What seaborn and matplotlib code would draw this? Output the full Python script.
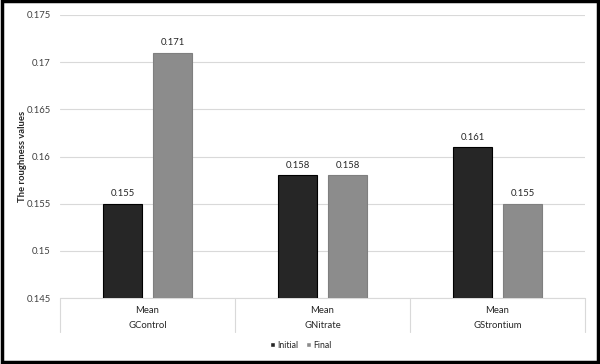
import pandas as pd
import seaborn as sns
import matplotlib.pyplot as plt
from matplotlib.patches import Rectangle

# Dati
gruppi = ['GControl', 'GNitrate', 'GStrontium']
fasi = ['Initial', 'Final']
initial = [0.155, 0.158, 0.161]
final = [0.171, 0.158, 0.155]
yticks = [0.145, 0.15, 0.155, 0.16, 0.165, 0.17, 0.175]
ytick_labels = ['0.145', '0.15', '0.155', '0.16', '0.165', '0.17', '0.175']

df = pd.DataFrame({
    'gruppo': gruppi * 2,
    'fase': ['Initial'] * 3 + ['Final'] * 3,
    'valore': initial + final,
})

sns.set_style('white')
plt.rcParams['font.family'] = ['Lato', 'DejaVu Sans']

fig = plt.figure(figsize=(6, 3.64), dpi=100)
ax = fig.add_axes([0.1, 0.181, 0.875, 0.778])

sns.barplot(data=df, x='gruppo', y='valore', hue='fase', hue_order=fasi,
            palette=['#262626', '#8c8c8c'], width=0.57, gap=0.22,
            errorbar=None, ax=ax, zorder=3)

# bordi delle barre
for cont, ec in zip(ax.containers, ['black', '#7f7f7f']):
    for b in cont:
        b.set_edgecolor(ec)
        b.set_linewidth(0.8)
    ax.bar_label(cont, labels=[f'{v:.3f}' for v in cont.datavalues],
                 padding=4, fontsize=6.8, color='#262626')

ax.set_ylim(0.145, 0.175)
ax.set_yticks(yticks)
ax.set_yticklabels(ytick_labels, fontsize=6.8, color='#404040')
ax.tick_params(axis='y', length=0, pad=6.5)
ax.yaxis.grid(True, color='#d9d9d9', linewidth=0.8, zorder=0)
ax.set_axisbelow(True)
for s in ax.spines.values():
    s.set_visible(False)

ax.set_ylabel('The roughness values', fontsize=6.8, fontweight='bold')
ax.yaxis.set_label_coords(-0.063, 0.5)
ax.set_xlabel('')
ax.set_xticks([])
ax.set_xlim(-0.5, 2.5)

# asse delle categorie a tabella (stile Excel)
tr = ax.get_xaxis_transform()
ax.plot([-0.5, 2.5], [0, 0], transform=tr, color='#d9d9d9', lw=0.8, clip_on=False)
for xv in [-0.5, 0.5, 1.5, 2.5]:
    ax.plot([xv, xv], [0, -0.12], transform=tr, color='#d9d9d9', lw=0.8, clip_on=False)
for i, g in enumerate(gruppi):
    ax.text(i, -0.042, 'Mean', transform=tr, ha='center', va='center', fontsize=6.8, color='#262626')
    ax.text(i, -0.098, g, transform=tr, ha='center', va='center', fontsize=6.8, color='#262626')

ax.legend(loc='center', bbox_to_anchor=(0.459, -0.166), ncol=2, frameon=False,
          fontsize=6.3, handlelength=0.6, handleheight=0.6, handletextpad=0.3,
          columnspacing=0.8)

# cornice nera attorno alla figura
fig.patches.append(Rectangle((0.004, 0.006), 0.992, 0.99, transform=fig.transFigure,
                             fill=False, edgecolor='black', linewidth=2.5))

fig.savefig('out.png', dpi=100)
